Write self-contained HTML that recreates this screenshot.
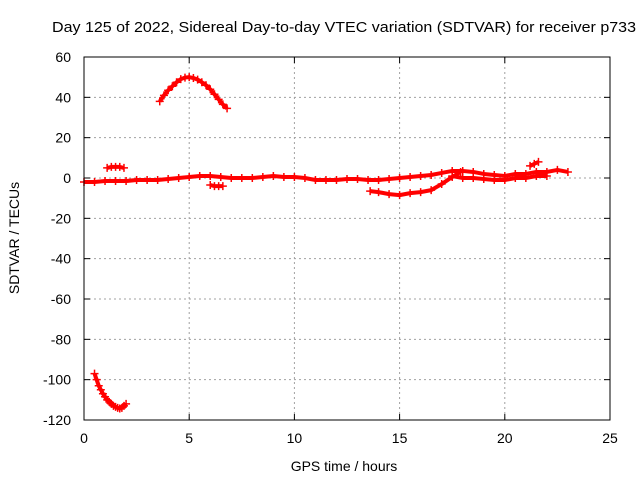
<!DOCTYPE html>
<html><head><meta charset="utf-8"><style>
body{margin:0;background:#fff;}
svg text{font-family:"Liberation Sans",sans-serif;font-size:14px;fill:#000;}
</style></head><body>
<svg id="chart" width="640" height="480" xmlns="http://www.w3.org/2000/svg">
<text x="52" y="32" textLength="584" lengthAdjust="spacingAndGlyphs" style="font-size:15px">Day 125 of 2022, Sidereal Day-to-day VTEC variation (SDTVAR) for receiver p733</text>
<text x="344" y="471" text-anchor="middle">GPS time / hours</text>
<text transform="translate(19,238) rotate(-90)" text-anchor="middle">SDTVAR / TECUs</text>
<g id="grid"></g><g id="ticks"></g><g id="marks"></g>
<rect x="84" y="57" width="526" height="363" fill="none" stroke="#000" stroke-width="1"/>
</svg>
<script>
const xTicks=[0,5,10,15,20,25];
const yTicks=[60,40,20,0,-20,-40,-60,-80,-100,-120];
const humpX=[3.6,3.8,4.0,4.2,4.4,4.6,4.8,5.0,5.2,5.4,5.6,5.8,6.0,6.2,6.4,6.6,6.8];
const humpY=[38,41,43.5,45.5,47.5,49,49.8,50,49.6,48.8,47.5,46,44,41.5,39,36.5,34.5];
const dipX=[0.5,0.6,0.7,0.8,0.9,1.0,1.1,1.2,1.3,1.4,1.5,1.6,1.7,1.8,1.9,2.0];
const dipY=[-97,-100,-103,-105,-107,-108.5,-110,-111,-112,-113,-113.5,-114,-114.3,-114,-113,-112];
const mainX=[0,0.5,1,1.5,2,2.5,3,3.5,4,4.5,5,5.5,6,6.5,7,7.5,8,8.5,9,9.5,10,10.5,11,11.5,12,12.5,13,13.5,14,14.5,15,15.5,16,16.5,17,17.5,18,18.5,19,19.5,20,20.5,21,21.5,22,22.5,23];
const mainY=[-2,-2,-1.5,-1.5,-1.5,-1,-1,-1,-0.5,0,0.5,1,1,0.5,0,0,0,0.5,1,0.5,0.5,0,-1,-1,-1,-0.5,-0.5,-1,-1,-0.5,0,0.5,1,1.5,2.5,3.5,3.5,3,2,1.5,1,2,2,3,3,4,3];
const bandX=[17.5,18,18.5,19,19.5,20,20.5,21,21.5,22];
const bandY=[1,0,0,-0.5,-1,-1,0,0,1,1];
const spikeX=[21.2,21.4,21.6];
const spikeY=[6,7,8];
const smallAX=[1.1,1.3,1.5,1.7,1.9];
const smallAY=[5,5.5,5.5,5.5,5];
const smallBX=[6.0,6.2,6.4,6.6];
const smallBY=[-3.5,-4,-4,-4];
const lowX=[13.6,14,14.5,15,15.5,16,16.5,17,17.5,17.9];
const lowY=[-6.5,-7,-8,-8.5,-7.5,-7,-6,-3,0.5,3];
const NS="http://www.w3.org/2000/svg";
const sx=v=>84+v*526/25, sy=v=>57+(60-v)*363/180;
const grid=document.getElementById('grid'),ticks=document.getElementById('ticks'),marks=document.getElementById('marks');
function mk(t,a,p){const e=document.createElementNS(NS,t);for(const k in a)e.setAttribute(k,a[k]);p.appendChild(e);return e;}
xTicks.forEach(t=>{const x=sx(t);
 if(t>0&&t<25){const g=mk('line',{x1:x,x2:x,y1:57,y2:420,stroke:'#a0a0a0','stroke-dasharray':'2,3'},grid);
 
 }
 const l=mk('text',{x:x,y:443,'text-anchor':'middle'},ticks);l.textContent=t;
 
 
 mk('line',{x1:x,x2:x,y1:420,y2:414,stroke:'#000'},ticks);mk('line',{x1:x,x2:x,y1:57,y2:63,stroke:'#000'},ticks);});
yTicks.forEach(t=>{const y=sy(t);
 if(t<60&&t>-120){const g=mk('line',{x1:84,x2:610,y1:y,y2:y,stroke:'#a0a0a0','stroke-dasharray':'2,3'},grid);
 
 }
 const l=mk('text',{x:71,y:y+5,'text-anchor':'end'},ticks);l.textContent=t;
 
 
 mk('line',{x1:84,x2:90,y1:y,y2:y,stroke:'#000'},ticks);mk('line',{x1:604,x2:610,y1:y,y2:y,stroke:'#000'},ticks);});
function series(xs,ys,name){
 const g=mk('g',{},marks);
 
 
 mk('polyline',{points:xs.map((x,i)=>sx(x)+','+sy(ys[i])).join(' '),fill:'none',stroke:'#f00','stroke-width':4,'stroke-linejoin':'round'},g);
 xs.forEach((x,i)=>{const cx=sx(x),cy=sy(ys[i]);
  const p=mk('path',{d:`M${cx-4},${cy}H${cx+4}M${cx},${cy-4}V${cy+4}`,stroke:'#f00','stroke-width':1.5},g);
  
  });
}
series(humpX,humpY,'series-hump');
series(dipX,dipY,'series-dip');
series(mainX,mainY,'series-main');
series(bandX,bandY,'series-band');
series(spikeX,spikeY,'series-spike');
series(smallAX,smallAY,'series-small-a');
series(smallBX,smallBY,'series-small-b');
series(lowX,lowY,'series-lower-branch');
</script>
</body></html>
